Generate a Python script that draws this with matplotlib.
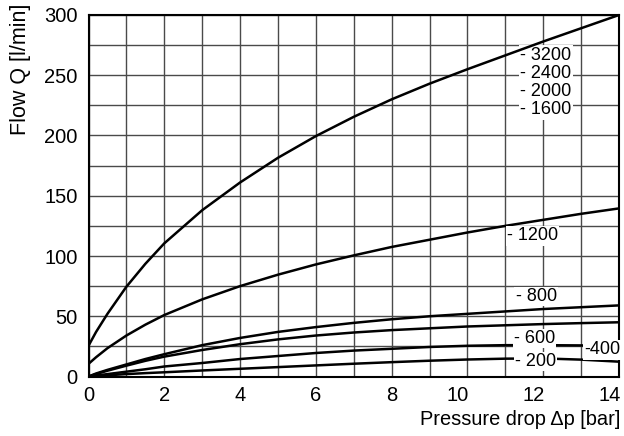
import matplotlib
matplotlib.use("Agg")
import matplotlib.pyplot as plt
import matplotlib.transforms as mtransforms
from matplotlib.ticker import MultipleLocator

plt.rcParams["font.family"] = ["Liberation Sans", "DejaVu Sans"]

# pressure drop [bar] where the curves were read
dp = [0, 0.2, 0.5, 1, 1.5, 2, 3, 4, 5, 6, 7, 8, 9, 10, 11, 12, 13, 14]

# flow Q [l/min] per curve
q_3200 = [25.5, 37, 52, 74.5, 93.5, 110.5, 138, 161, 181.5, 199.5, 215.5, 230, 243, 255, 266.5, 278, 289, 300]
q_1200 = [10.5, 16, 23.5, 34, 43, 51, 64, 75, 84.5, 93, 100.5, 107.5, 113.5, 119.5, 125, 130, 135, 139.5]
q_800 = [0, 2.5, 5.5, 10, 14.5, 18.5, 26, 32, 37, 41, 44.5, 47.5, 50, 52, 54, 56, 57.5, 59]
q_600 = [0, 2, 4.8, 9, 13, 16.5, 22, 26.8, 30.8, 34, 36.5, 38.5, 40, 41.5, 42.5, 43.5, 44.3, 45]
q_400 = [0, 0.8, 2, 4, 6, 8.3, 11.2, 14.5, 17, 19.5, 21.5, 23, 24.5, 25.5, 26, 26, 25.8, 25.5]
q_200 = [0, 0.4, 1, 2, 2.8, 3.5, 5, 6.4, 7.8, 9.2, 10.6, 11.9, 13.1, 14.1, 14.8, 15, 14, 12.3]

curves = [q_3200, q_1200, q_800, q_600, q_400, q_200]

# curve labels and where they sit
lab_text = ["- 3200", "- 2400", "- 2000", "- 1600", "- 1200", "- 800", "- 600", "-400", "- 200"]
lab_x = [11.4, 11.4, 11.4, 11.4, 11.05, 11.27, 11.23, 12.98, 11.25]
lab_y = [266.8, 251.6, 236.3, 221.2, 116.6, 66.2, 31.7, 22.0, 12.3]

x_ticks = [0, 2, 4, 6, 8, 10, 12, 14]

fig = plt.figure(figsize=(6.24, 4.36), dpi=100)
ax = fig.add_axes([88.5 / 624, 1 - 376.5 / 436, (619 - 88.5) / 624, (376.5 - 15) / 436])

for i, q in enumerate(curves):
    # the top curve runs over its label, the others go under theirs
    ax.plot(dp, q, color="black", lw=1.8, zorder=5 if i == 0 else 3, solid_capstyle="butt")

for t, x, y in zip(lab_text, lab_x, lab_y):
    if t == "-400":
        ax.text(14.03, y, t, fontsize=13, ha="right", va="center", zorder=4, clip_on=False,
                bbox=dict(boxstyle="square,pad=0.06", facecolor="white", edgecolor="none"))
    else:
        ax.text(x, y, t, fontsize=13, ha="left", va="center", zorder=4, clip_on=False,
                bbox=dict(boxstyle="square,pad=0.06", facecolor="white", edgecolor="none"))

ax.set_xlim(0, 14)
ax.set_ylim(0, 300)
ax.xaxis.set_major_locator(MultipleLocator(2))
ax.xaxis.set_minor_locator(MultipleLocator(1))
ax.yaxis.set_major_locator(MultipleLocator(50))
ax.yaxis.set_minor_locator(MultipleLocator(25))
ax.grid(which="both", color="#4a4a4a", lw=1.0, zorder=0)
ax.set_axisbelow(True)
ax.tick_params(which="both", length=0, labelsize=14.5)
ax.tick_params(axis="y", pad=8)
ax.tick_params(axis="x", labelbottom=False)
for s in ax.spines.values():
    s.set_linewidth(1.5)
    s.set_zorder(3.5)

# x tick labels: the two-digit ones end at their grid line
trans = mtransforms.blended_transform_factory(ax.transData, ax.transAxes)
for v in x_ticks:
    if v >= 10:
        off = mtransforms.ScaledTranslation(1.5 / 100, 0, fig.dpi_scale_trans)
        ax.text(v, -0.026, str(v), transform=trans + off, ha="right", va="top", fontsize=14.5, clip_on=False)
    else:
        ax.text(v, -0.026, str(v), transform=trans, ha="center", va="top", fontsize=14.5, clip_on=False)

fig.text(21 / 624, 1 - 4 / 436, "Flow Q [l/min]", rotation=90, ha="center", va="top", fontsize=15.5)
fig.text(620 / 624, 1 - 425 / 436, "Pressure drop \u0394p [bar]", ha="right", va="baseline", fontsize=14.4)

fig.savefig("out.png", dpi=100, facecolor="white")
